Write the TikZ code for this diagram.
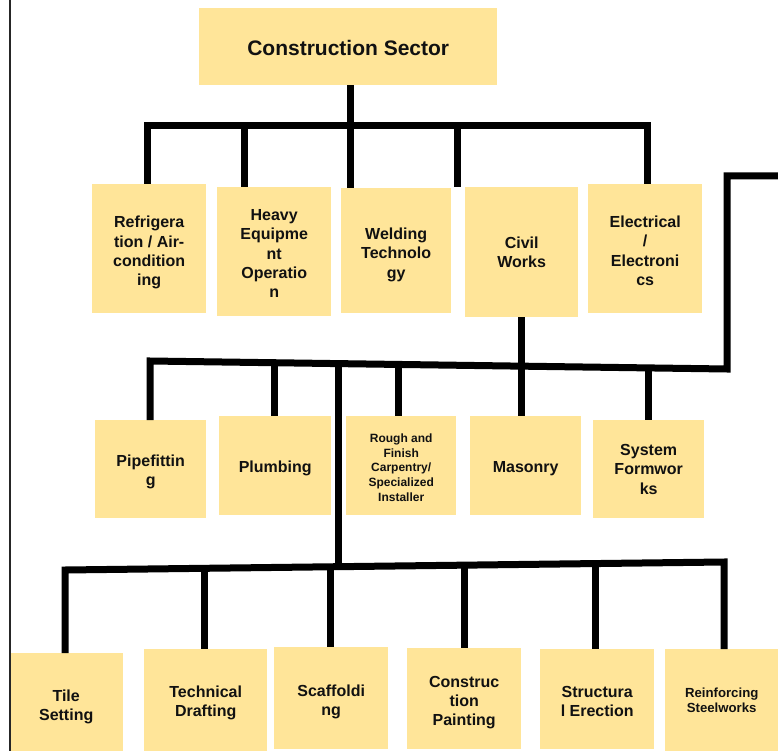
\documentclass[tikz,border=0pt]{standalone}
\usepackage{fontspec}
\setmainfont{Liberation Sans}
\definecolor{boxyellow}{HTML}{FFE599}
\definecolor{txt}{HTML}{111111}
% #1 text style, #2 name, #3 x, #4 y, #5 width, #6 height, #7 text shift down, #8 text
\newcommand\mkbox[8]{%
  \node[boxshape, minimum width=#5pt, minimum height=#6pt] (#2) at (#3,#4) {};
  \node[#1] (#2-t) at ([yshift=-#7pt]#2.center) {#8};}
\begin{document}
\begin{tikzpicture}[x=1pt,y=-1pt,
  boxshape/.style={fill=boxyellow, draw=none, inner sep=0pt, anchor=north west},
  lbl/.style={inner sep=0pt, align=center, text=txt, font=\bfseries\fontsize{16}{19.3}\selectfont},
  biglbl/.style={lbl, font=\bfseries\fontsize{21}{25}\selectfont},
  smalllbl/.style={lbl, font=\bfseries\fontsize{12}{14.6}\selectfont},
  midlbl/.style={lbl, font=\bfseries\fontsize{13.2}{15.7}\selectfont},
  conn/.style={draw=black, line width=7pt, line cap=butt, line join=miter}]
\useasboundingbox (0,0) rectangle (778,751);
% nodes
\mkbox{biglbl}{top}{199}{8}{298}{77}{1}{Construction Sector}
\mkbox{lbl}{refr}{92}{184}{114}{129}{4}{Refrigera\\tion / Air-\\condition\\ing}
\mkbox{lbl}{heavy}{217}{187}{114}{129}{2}{Heavy\\Equipme\\nt\\Operatio\\n}
\mkbox{lbl}{weld}{341}{188}{110}{125}{4}{Welding\\Technolo\\gy}
\mkbox{lbl}{civil}{465}{187}{113}{130}{0}{Civil\\Works}
\mkbox{lbl}{elec}{588}{184}{114}{129}{2}{Electrical\\/\\Electroni\\cs}
\mkbox{lbl}{pipe}{95}{420}{111}{98}{3}{Pipefittin\\g}
\mkbox{lbl}{plumb}{219}{416}{112}{99}{3}{Plumbing}
\mkbox{smalllbl}{rough}{346}{416}{110}{99}{2}{Rough and\\Finish\\Carpentry/\\Specialized\\Installer}
\mkbox{lbl}{mason}{470}{416}{111}{99}{3}{Masonry}
\mkbox{lbl}{sysf}{593}{420}{111}{98}{0}{System\\Formwor\\ks}
\mkbox{lbl}{tile}{9}{653}{114}{98}{5}{Tile\\Setting}
\mkbox{lbl}{tech}{144}{649}{123}{102}{3}{Technical\\Drafting}
\mkbox{lbl}{scaf}{274}{647}{114}{102}{4}{Scaffoldi\\ng}
\mkbox{lbl}{paint}{407}{648}{114}{101}{4}{Construc\\tion\\Painting}
\mkbox{lbl}{struct}{540}{649}{114}{100}{2}{Structura\\l Erection}
\mkbox{midlbl}{reinf}{665}{649}{113}{102}{0}{Reinforcing\\Steelworks}
% level 1 connectors
\coordinate (a1) at (147,126);
\coordinate (a2) at (244,126);
\coordinate (a3) at (350,126);
\coordinate (a4) at (457,126);
\coordinate (a5) at (647,126);
\draw[conn] (refr.north -| a1) -- (a1) -- (a5) -- (elec.north -| a5);
\draw[conn] (top.south -| a3) -- (weld.north -| a3);
\draw[conn] (a2) -- (heavy.north -| a2);
\draw[conn] (a4) -- (civil.north -| a4);
% level 2 connectors
\coordinate (c1) at (150,361);
\coordinate (c2) at (727,369);
\coordinate (c3) at (727,176);
\coordinate (c4) at (782,176);
\coordinate (p2) at (274,362.7);
\coordinate (p3) at (398,364.4);
\coordinate (p5) at (648,367.9);
\coordinate (d1) at (338,363.6);
\coordinate (d2) at (338,566.7);
\draw[conn] (pipe.north -| c1) -- (c1) -- (c2) -- (c3) -- (c4);
\draw[conn] (p2) -- (plumb.north -| p2);
\draw[conn] (p3) -- (rough.north -| p3);
\draw[conn] (p5) -- (sysf.north -| p5);
\draw[conn] (civil.south) -- (civil.south |- mason.north);
\draw[conn] (d1) -- (d2);
% level 3 connectors
\coordinate (e1) at (65,570);
\coordinate (e2) at (724,562);
\coordinate (f2) at (204,568.3);
\coordinate (f3) at (330,566.8);
\coordinate (f4) at (464,565.2);
\coordinate (f5) at (595,563.6);
\draw[conn] (tile.north -| e1) -- (e1) -- (e2) -- (reinf.north -| e2);
\draw[conn] (f2) -- (tech.north -| f2);
\draw[conn] (f3) -- (scaf.north -| f3);
\draw[conn] (f4) -- (paint.north -| f4);
\draw[conn] (f5) -- (struct.north -| f5);
% left border
\coordinate (g1) at (9.5,0);
\coordinate (g2) at (9.5,751);
\draw[line width=2pt, draw=black!85] (g1) -- (g2);
\end{tikzpicture}
\end{document}
